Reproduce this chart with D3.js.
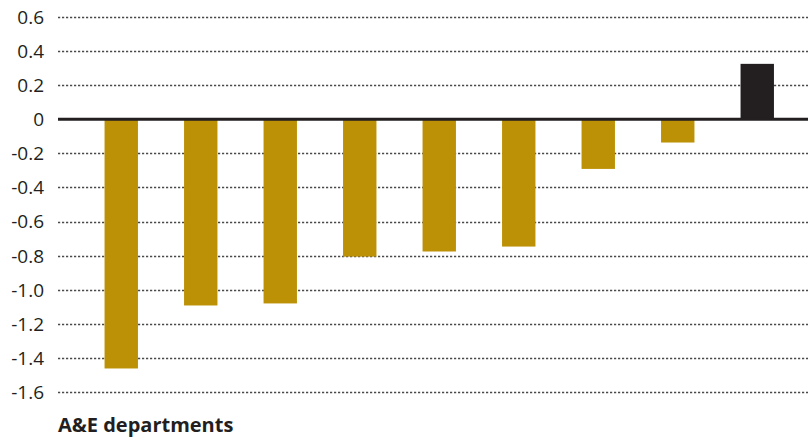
<!DOCTYPE html>
<html><head><meta charset="utf-8">
<script src="https://cdn.jsdelivr.net/npm/d3@7"></script>
<style>body{margin:0;background:#fff}svg{display:block}text{font-family:"Open Sans",sans-serif;fill:#231f20}</style>
</head><body>
<script>
const categories = ["1","2","3","4","5","6","7","8","9"];
const values = [-1.463, -1.093, -1.081, -0.806, -0.776, -0.747, -0.291, -0.136, 0.326];
const highlight = [false,false,false,false,false,false,false,false,true];
const yTicks = [0.6,0.4,0.2,0,-0.2,-0.4,-0.6,-0.8,-1.0,-1.2,-1.4,-1.6];
const yTickLabels = ["0.6","0.4","0.2","0","-0.2","-0.4","-0.6","-0.8","-1.0","-1.2","-1.4","-1.6"];
const xTitle = "A&E departments";

const W = 808, H = 441;
const svg = d3.select("body").append("svg").attr("width", W).attr("height", H);
const y = d3.scaleLinear().domain([-1.6, 0.6]).range([391.8, 17.2]);
const x = d3.scaleBand().domain(categories).range([81.5, 797]).paddingInner(0.58).paddingOuter(0.29);
const gridX0 = 58, gridX1 = 808;

svg.append("g").selectAll("line").data(yTicks.filter(d => d !== 0)).join("line")
  .attr("x1", gridX0).attr("x2", gridX1)
  .attr("y1", d => Math.round(y(d)) + 0.5).attr("y2", d => Math.round(y(d)) + 0.5)
  .attr("stroke", "#4a4a4a").attr("stroke-width", 1.3).attr("stroke-dasharray", "2.2,1.8");

const yAxis = d3.axisLeft(y).tickValues(yTicks).tickFormat((d, i) => yTickLabels[i]).tickSize(0).tickPadding(0);
const ag = svg.append("g").attr("transform", "translate(44,0)").call(yAxis);
ag.select(".domain").remove();
ag.selectAll("text").attr("font-size", 19).attr("fill", "#231f20").attr("font-family", "'Open Sans',sans-serif").attr("dy", "0.34em");

svg.append("g").selectAll("rect").data(values).join("rect")
  .attr("x", (d, i) => x(categories[i]))
  .attr("width", x.bandwidth())
  .attr("y", d => y(Math.max(0, d)))
  .attr("height", d => Math.abs(y(d) - y(0)))
  .attr("fill", (d, i) => highlight[i] ? "#231f20" : "#bc9106");

svg.append("line").attr("x1", gridX0).attr("x2", gridX1)
  .attr("y1", y(0)).attr("y2", y(0)).attr("stroke", "#231f20").attr("stroke-width", 3);

svg.append("text").attr("x", 58).attr("y", 432).attr("font-size", 20).attr("font-weight", "bold").text(xTitle);
</script>
</body></html>
